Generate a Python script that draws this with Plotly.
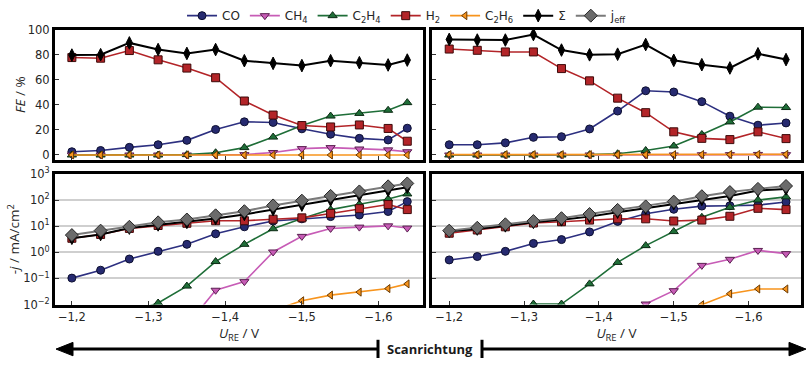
import plotly.graph_objects as go

# Potential steps (V vs. RE) for the two scan directions
u_left = [-1.2, -1.2375, -1.275, -1.3125, -1.35, -1.3875, -1.425, -1.4625,
          -1.5, -1.5375, -1.575, -1.6125, -1.6375]
u_right = [-1.2, -1.2375, -1.275, -1.3125, -1.35, -1.3875, -1.425, -1.4625,
           -1.5, -1.5375, -1.575, -1.6125, -1.65]

# Faradaic efficiencies / %  (left scan)
fe_co_l = [2.6, 3.6, 6.1, 8.2, 11.7, 20.4, 26.5, 26.0, 20.9, 16.6, 13.3, 12.0, 21.4]
fe_ch4_l = [0.0, 0.0, 0.0, 0.0, 0.0, 0.0, 0.3, 2.0, 5.1, 5.9, 4.8, 4.1, 2.6]
fe_c2h4_l = [0.0, 0.0, 0.0, 0.0, 0.3, 1.8, 5.9, 14.3, 23.5, 31.1, 33.2, 35.7, 41.8]
fe_h2_l = [77.8, 77.3, 83.4, 76.0, 69.4, 61.7, 43.1, 31.9, 23.5, 22.4, 24.0, 21.2, 11.0]
fe_c2h6_l = [0.0, 0.0, 0.0, 0.0, 0.0, 0.0, 0.0, 0.0, 0.0, 0.0, 0.0, 0.0, 0.0]
fe_sum_l = [79.8, 80.1, 89.5, 84.2, 81.1, 84.2, 75.3, 73.2, 71.4, 75.3, 73.7, 71.9, 75.8]

# Faradaic efficiencies / %  (right scan)
fe_co_r = [8.2, 8.2, 9.7, 14.1, 14.6, 20.8, 35.1, 51.3, 50.3, 42.6, 31.0, 23.8, 25.6]
fe_ch4_r = [0.0, 0.0, 0.0, 0.0, 0.0, 0.0, 0.0, 0.02, 0.04, 0.2, 0.3, 0.45, 0.3]
fe_c2h4_r = [0.0, 0.0, 0.0, 0.0, 0.0, 0.3, 1.0, 3.6, 7.2, 16.4, 26.4, 38.2, 37.9]
fe_h2_r = [84.6, 83.6, 82.3, 82.3, 69.0, 59.2, 45.4, 33.8, 18.5, 13.3, 12.3, 18.5, 13.1]
fe_c2h6_r = [0.3, 0.3, 0.3, 0.3, 0.3, 0.3, 0.3, 0.3, 0.3, 0.4, 0.4, 0.5, 0.5]
fe_sum_r = [92.3, 91.8, 91.8, 96.2, 83.8, 80.0, 80.5, 88.2, 75.6, 72.1, 69.5, 80.8, 76.2]

# Partial current densities -j / mA cm^-2  (left scan)
j_co_l = [0.103, 0.207, 0.554, 1.09, 2.02, 5.10, 9.46, 15.7, 19.1, 23.2, 26.7, 36.4, 86.9]
j_ch4_l = [None, None, None, None, 0.0016, 0.0354, 0.0755, 1.03, 4.07, 8.2, 9.2, 10.3, 8.45]
j_c2h4_l = [None, None, 0.005, 0.0115, 0.051, 0.443, 2.02, 7.98, 19.6, 43.0, 69.4, 109, 171]
j_h2_l = [3.44, 4.82, 8.2, 10.6, 12.9, 16.1, 16.1, 18.5, 20.8, 30.7, 46.9, 67.5, 43.1]
j_c2h6_l = [None, None, None, None, None, None, None, 0.006, 0.014, 0.023, 0.030, 0.041, 0.062]
j_sum_l = [3.44, 4.82, 8.45, 11.2, 14.0, 19.6, 28.2, 43.1, 63.8, 100, 152, 232, 308]
j_eff_l = [4.56, 6.75, 9.46, 14.0, 18.0, 26.0, 37.4, 62.1, 94.6, 144, 213, 334, 431]

# Partial current densities -j / mA cm^-2  (right scan)
j_co_r = [0.51, 0.69, 1.09, 2.19, 3.07, 6.03, 15.2, 29.9, 44.3, 58.7, 60.3, 63.8, 84.5]
j_ch4_r = [None, None, None, None, None, None, None, 0.0105, 0.034, 0.316, 0.54, 1.18, 0.89]
j_c2h4_r = [None, None, None, 0.0105, 0.0105, 0.062, 0.41, 1.80, 6.21, 21.9, 52.5, 100, 132]
j_h2_r = [5.39, 7.14, 9.46, 13.2, 14.8, 17.1, 19.1, 19.1, 15.7, 17.1, 23.9, 48.2, 43.1]
j_c2h6_r = [None, None, None, None, None, None, None, None, None, 0.0099, 0.026, 0.0396, 0.0396]
j_sum_r = [6.38, 7.77, 10.3, 14.0, 17.5, 23.2, 34.4, 49.5, 73.5, 106, 144, 232, 267]
j_eff_r = [6.75, 8.69, 11.8, 15.7, 20.2, 29.1, 41.9, 57.0, 86.9, 140, 202, 267, 344]

log_ticks = [0.01, 0.1, 1, 10, 100, 1000]
log_tick_text = ["10<sup>−2</sup>", "10<sup>−1</sup>", "10<sup>0</sup>",
                 "10<sup>1</sup>", "10<sup>2</sup>", "10<sup>3</sup>"]

# line colour, marker symbol, marker fill, marker edge, marker size
styles = {
    "CO": ("#2d3080", "circle", "#262a70", "#0d0f30", 8),
    "CH4": ("#c75cb6", "triangle-down", "#c75cb6", "#5a1f50", 8),
    "C2H4": ("#1f6e38", "triangle-up", "#1f6e38", "#0b2913", 8),
    "H2": ("#b32428", "square", "#b32428", "#3d0a0a", 8),
    "C2H6": ("#f7941d", "triangle-left", "#f7941d", "#6b3a00", 7),
    "SUM": ("#000000", "diamond-tall", "#000000", "#000000", 9),
    "JEFF": ("#7a7a7a", "diamond", "#6b6b6b", "#262626", 10),
}
labels = {
    "CO": "CO", "CH4": "CH<sub>4</sub>", "C2H4": "C<sub>2</sub>H<sub>4</sub>",
    "H2": "H<sub>2</sub>", "C2H6": "C<sub>2</sub>H<sub>6</sub>", "SUM": "Σ",
    "JEFF": "j<sub>eff</sub>",
}

fig = go.Figure()


def add(key, x, y, xa, ya, legend):
    lc, sym, fill, edge, size = styles[key]
    fig.add_trace(go.Scatter(
        x=x, y=y, xaxis=xa, yaxis=ya, mode="lines+markers",
        name=labels[key], legendgroup=key, showlegend=legend,
        line=dict(color=lc, width=2 if key in ("SUM", "JEFF") else 1.6),
        marker=dict(symbol=sym, size=size, color=fill,
                    line=dict(color=edge, width=1)),
        connectgaps=False,
    ))


# FE panels
for key, yl, yr in [("CO", fe_co_l, fe_co_r), ("CH4", fe_ch4_l, fe_ch4_r),
                    ("C2H4", fe_c2h4_l, fe_c2h4_r), ("H2", fe_h2_l, fe_h2_r),
                    ("C2H6", fe_c2h6_l, fe_c2h6_r), ("SUM", fe_sum_l, fe_sum_r)]:
    add(key, u_left, yl, "x", "y", True)
    add(key, u_right, yr, "x2", "y2", False)

# current density panels
for key, yl, yr in [("CO", j_co_l, j_co_r), ("CH4", j_ch4_l, j_ch4_r),
                    ("C2H4", j_c2h4_l, j_c2h4_r), ("H2", j_h2_l, j_h2_r),
                    ("C2H6", j_c2h6_l, j_c2h6_r), ("SUM", j_sum_l, j_sum_r),
                    ("JEFF", j_eff_l, j_eff_r)]:
    add(key, u_left, yl, "x3", "y3", key == "JEFF")
    add(key, u_right, yr, "x4", "y4", False)

W, H = 806, 365
dom_xl = [55 / W, 423 / W]
dom_xr = [432 / W, 801 / W]
dom_yt = [1 - 158 / H, 1 - 22.7 / H]
dom_yb = [1 - 309.3 / H, 1 - 173 / H]

tick_font = dict(family="DejaVu Sans", size=11.5, color="#262626")
title_font = dict(family="Open Sans", size=13.5, color="#262626")
frame = dict(showline=True, linecolor="black", linewidth=3, mirror=True,
             ticks="inside", ticklen=4, tickcolor="#333333", tickwidth=1,
             zeroline=False, tickfont=tick_font)

x_common = dict(frame, tickmode="linear", tick0=-1.2, dtick=0.1, showgrid=False)

fig.update_layout(
    width=W, height=H,
    margin=dict(l=0, r=0, t=0, b=0),
    paper_bgcolor="white", plot_bgcolor="white",
    separators=",.",
    font=dict(family="DejaVu Sans", color="#262626"),
    xaxis=dict(x_common, domain=dom_xl, range=[-1.178, -1.658], anchor="y",
               showticklabels=False),
    xaxis2=dict(x_common, domain=dom_xr, range=[-1.177, -1.670], anchor="y2",
                showticklabels=False),
    xaxis3=dict(x_common, domain=dom_xl, range=[-1.178, -1.658], anchor="y3",
                title=dict(text="<i>U</i><sub>RE</sub> / V", font=title_font,
                           standoff=0)),
    xaxis4=dict(x_common, domain=dom_xr, range=[-1.177, -1.670], anchor="y4",
                title=dict(text="<i>U</i><sub>RE</sub> / V", font=title_font,
                           standoff=0)),
    yaxis=dict(frame, domain=dom_yt, range=[-3.6, 100], anchor="x",
               tickmode="linear", tick0=0, dtick=20, showgrid=False,
               title=dict(text="<i>FE</i> / %", font=title_font, standoff=0)),
    yaxis2=dict(frame, domain=dom_yt, range=[-3.6, 100], anchor="x2",
                tickmode="linear", tick0=0, dtick=20, showgrid=False,
                showticklabels=False),
    yaxis3=dict(frame, domain=dom_yb, type="log", range=[-2, 3], anchor="x3",
                tickmode="array", tickvals=log_ticks, ticktext=log_tick_text,
                showgrid=True, gridcolor="#cfcfcf", gridwidth=2,
                title=dict(text="-<i>j</i> / mA/cm<sup>2</sup>", font=title_font,
                           standoff=0)),
    yaxis4=dict(frame, domain=dom_yb, type="log", range=[-2, 3], anchor="x4",
                tickmode="array", tickvals=log_ticks, ticktext=log_tick_text,
                showgrid=True, gridcolor="#cfcfcf", gridwidth=2,
                showticklabels=False),
    legend=dict(orientation="h", x=0.505, xanchor="center", y=1 - 8 / H,
                yanchor="middle", font=dict(family="DejaVu Sans", size=12,
                                            color="#262626"),
                itemwidth=30, bgcolor="rgba(0,0,0,0)", borderwidth=0,
                tracegroupgap=0),
)

# scan direction arrow below the panels
ya = 1 - 355.7 / H
fig.add_shape(type="line", xref="paper", yref="paper",
              x0=66 / W, x1=378 / W, y0=ya, y1=ya,
              line=dict(color="black", width=3))
fig.add_shape(type="path", xref="paper", yref="paper", fillcolor="black",
              line=dict(color="black", width=1),
              path=f"M {56 / W} {ya} L {73 / W} {ya + 7 / H} L {73 / W} {ya - 7 / H} Z")
fig.add_shape(type="line", xref="paper", yref="paper",
              x0=482 / W, x1=792 / W, y0=ya, y1=ya,
              line=dict(color="black", width=3))
fig.add_shape(type="path", xref="paper", yref="paper", fillcolor="black",
              line=dict(color="black", width=1),
              path=f"M {806 / W} {ya} L {789 / W} {ya + 7 / H} L {789 / W} {ya - 7 / H} Z")
for xb in (378, 482):
    fig.add_shape(type="line", xref="paper", yref="paper",
                  x0=xb / W, x1=xb / W, y0=1 - 346 / H, y1=0,
                  line=dict(color="black", width=3))
fig.add_annotation(text="<b>Scanrichtung</b>", xref="paper", yref="paper",
                   x=430 / W, y=ya, showarrow=False, xanchor="center",
                   yanchor="middle",
                   font=dict(family="Open Sans", size=13, color="#1a1a1a"))

fig.write_html("out.html")
